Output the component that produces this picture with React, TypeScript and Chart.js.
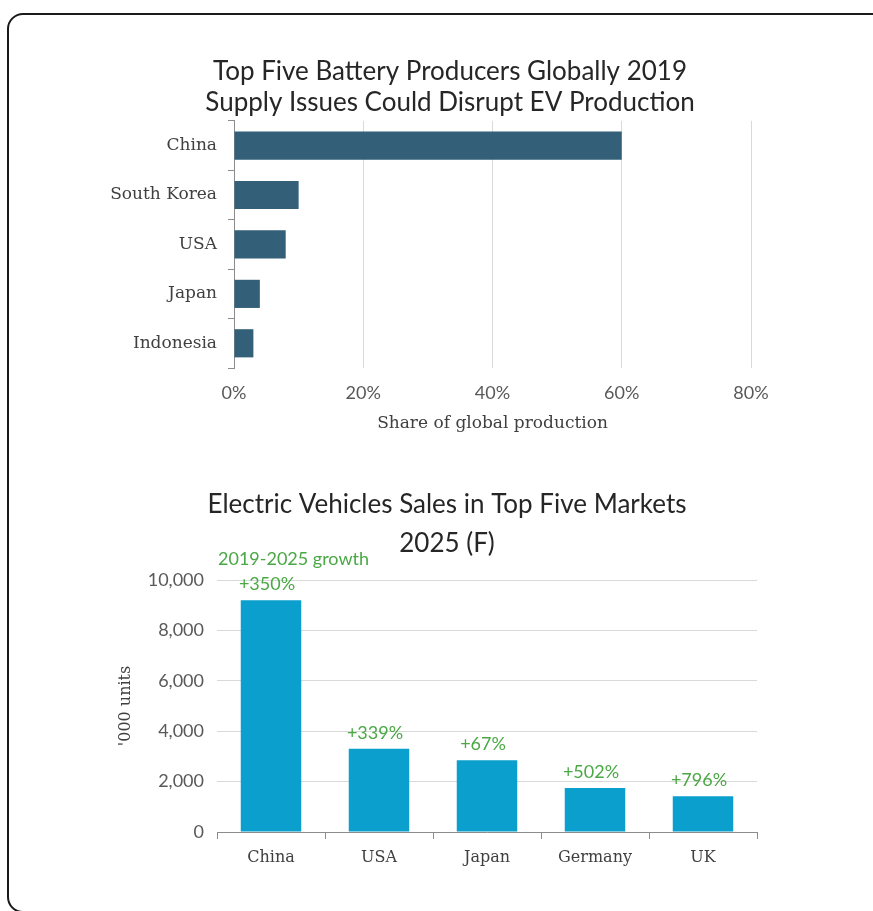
import React, { useEffect, useRef } from "react";
import { Chart, registerables } from "chart.js";

Chart.register(...registerables);

// ---- Data ----
const producerCountries = ["China", "South Korea", "USA", "Japan", "Indonesia"];
const producerShare = [60, 10, 8, 4, 3];
const shareTicks = [0, 20, 40, 60, 80];

const evMarkets = ["China", "USA", "Japan", "Germany", "UK"];
const evSales = [9200, 3300, 2850, 1750, 1420];
const evGrowth = ["+350%", "+339%", "+67%", "+502%", "+796%"];
const evTicks = [0, 2000, 4000, 6000, 8000, 10000];
const growthHeader = "2019-2025 growth";

const SANS = "Lato";
const SERIF = "DejaVu Serif";
const GREEN = "#4aa845";

const growthLabelsPlugin = {
  id: "growthLabels",
  afterDatasetsDraw(chart: any) {
    const meta = chart.getDatasetMeta(0);
    const ctx = chart.ctx;
    ctx.save();
    ctx.fillStyle = GREEN;
    ctx.font = `18px ${SANS}`;
    ctx.textAlign = "center";
    ctx.textBaseline = "bottom";
    meta.data.forEach((bar: any, i: number) => {
      ctx.fillText(evGrowth[i], bar.x - 4, bar.y - 7);
    });
    const first = meta.data[0];
    ctx.textAlign = "left";
    ctx.fillText(growthHeader, chart.chartArea.left + 1, first.y - 32);
    ctx.restore();
  },
};

function spacer(width: number) {
  return {
    type: "linear",
    position: "right",
    display: true,
    ticks: { display: false },
    grid: { display: false, drawTicks: false },
    border: { display: false },
    afterFit: (s: any) => {
      s.width = width;
    },
  };
}

function ProducersChart() {
  const ref = useRef<HTMLCanvasElement | null>(null);
  useEffect(() => {
    if (!ref.current) return;
    const chart = new Chart(ref.current, {
      type: "bar",
      data: {
        labels: producerCountries,
        datasets: [
          {
            data: producerShare,
            backgroundColor: "#335f79",
            barPercentage: 0.57,
            categoryPercentage: 1,
            xAxisID: "x",
            yAxisID: "y",
          },
        ],
      },
      options: {
        indexAxis: "y",
        animation: false,
        responsive: false,
        maintainAspectRatio: false,
        layout: { padding: 0 },
        plugins: {
          legend: { display: false },
          tooltip: { enabled: false },
          title: {
            display: true,
            text: [
              "Top Five Battery Producers Globally 2019",
              "Supply Issues Could Disrupt EV Production",
            ],
            font: { family: SANS, size: 26, weight: "normal", lineHeight: 1.19 },
            color: "#262626",
            padding: { top: 6, bottom: 3 },
          },
        },
        scales: {
          x: {
            min: 0,
            max: 80,
            afterBuildTicks: (s: any) => {
              s.ticks = shareTicks.map((v) => ({ value: v }));
            },
            ticks: {
              callback: (v: any) => v + "%",
              font: { family: SANS, size: 18 },
              color: "#595959",
              padding: 14,
            },
            grid: { color: "#d9d9d9", drawTicks: false },
            border: { display: false },
            title: {
              display: true,
              text: "Share of global production",
              font: { family: SERIF, size: 17 },
              color: "#404040",
              padding: { top: 0, bottom: 16 },
            },
            afterFit: (s: any) => {
              s.height = 82;
            },
          },
          y: {
            ticks: {
              font: { family: SERIF, size: 17 },
              color: "#404040",
              padding: 11,
            },
            grid: { drawOnChartArea: false, color: "#8c8c8c", tickLength: 6 },
            border: { color: "#8c8c8c" },
            afterFit: (s: any) => {
              s.width = 207;
            },
          },
          padR: spacer(122),
        },
      },
    } as any);
    return () => chart.destroy();
  }, []);
  return (
    <canvas
      ref={ref}
      width={846}
      height={400}
      style={{ position: "absolute", left: 27, top: 50, width: 846, height: 400 }}
    />
  );
}

function SalesChart() {
  const ref = useRef<HTMLCanvasElement | null>(null);
  useEffect(() => {
    if (!ref.current) return;
    const chart = new Chart(ref.current, {
      type: "bar",
      data: {
        labels: evMarkets,
        datasets: [
          {
            data: evSales,
            backgroundColor: "#0a9fcc",
            barPercentage: 0.56,
            categoryPercentage: 1,
            xAxisID: "x",
            yAxisID: "y",
          },
        ],
      },
      plugins: [growthLabelsPlugin],
      options: {
        animation: false,
        responsive: false,
        maintainAspectRatio: false,
        layout: { padding: 0 },
        plugins: {
          legend: { display: false },
          tooltip: { enabled: false },
          title: {
            display: true,
            text: ["Electric Vehicles Sales in Top Five Markets", "2025 (F)"],
            font: { family: SANS, size: 26, weight: "normal", lineHeight: 1.5 },
            color: "#262626",
            padding: { top: 15, bottom: 17 },
          },
        },
        scales: {
          y: {
            min: 0,
            max: 10000,
            afterBuildTicks: (s: any) => {
              s.ticks = evTicks.map((v) => ({ value: v }));
            },
            ticks: {
              callback: (v: any) => Number(v).toLocaleString("en-US"),
              font: { family: SANS, size: 18 },
              color: "#595959",
              padding: 13,
            },
            grid: { color: "#d9d9d9", drawTicks: false },
            border: { display: false },
            title: {
              display: true,
              text: "'000 units",
              font: { family: SERIF, size: 16 },
              color: "#404040",
              padding: { top: 95, bottom: 0 },
            },
            afterFit: (s: any) => {
              s.width = 196;
            },
          },
          x: {
            ticks: {
              font: { family: SERIF, size: 16 },
              color: "#404040",
              padding: 9,
            },
            grid: { drawOnChartArea: false, color: "#8c8c8c", tickLength: 7 },
            border: { color: "#8c8c8c" },
            afterFit: (s: any) => {
              s.height = 68;
            },
          },
          padR: spacer(116),
        },
      },
    } as any);
    return () => chart.destroy();
  }, []);
  return (
    <canvas
      ref={ref}
      width={852}
      height={430}
      style={{ position: "absolute", left: 21, top: 470, width: 852, height: 430 }}
    />
  );
}

export default function App() {
  return (
    <div
      style={{
        position: "fixed",
        left: 0,
        top: 0,
        width: 873,
        height: 911,
        overflow: "hidden",
        background: "#ffffff",
      }}
    >
      <div
        style={{
          position: "absolute",
          left: 7,
          top: 13,
          width: 920,
          height: 896,
          border: "2px solid #1a1a1a",
          borderRadius: 16,
        }}
      />
      <ProducersChart />
      <SalesChart />
    </div>
  );
}
